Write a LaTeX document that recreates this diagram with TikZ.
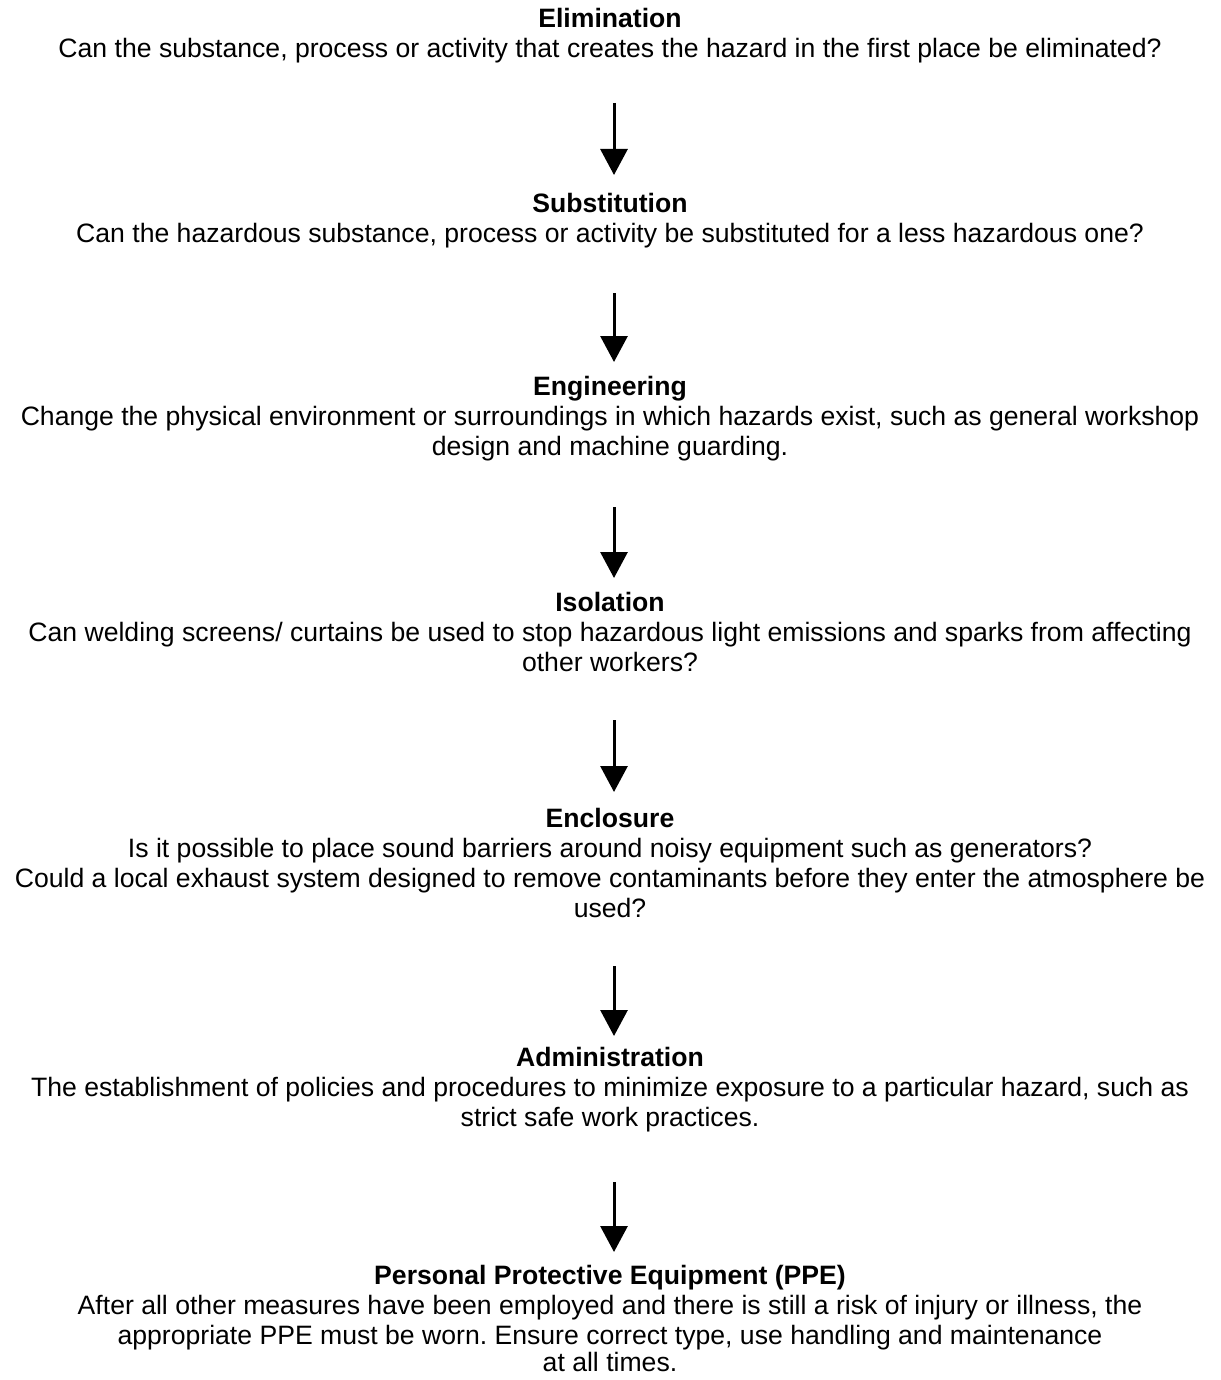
\documentclass[tikz,border=0pt]{standalone}
\usepackage{fontspec}
\setmainfont{Liberation Sans}
\usetikzlibrary{arrows.meta}
\frenchspacing
\tikzset{
  block/.style={anchor=north, inner sep=0pt, outer sep=0pt, align=center,
    font=\fontsize{26.6}{30}\selectfont},
  flow/.style={line width=3pt, -{Triangle[width=27pt,length=26pt]}}
}
\newcommand{\ttl}[1]{\strut\textbf{#1}}
\begin{document}
\begin{tikzpicture}[x=1pt,y=-1pt]
\useasboundingbox[fill=white] (0,0) rectangle (1220,1380);
\node[block] (elim) at (610,6.2) {\ttl{Elimination}\\Can the substance, process or activity that creates the hazard in the first place be eliminated?\strut};
\node[block] (subst) at (610,191.2) {\ttl{Substitution}\\Can the hazardous substance, process or activity be substituted for a less hazardous one?\strut};
\node[block] (eng) at (610,374.2) {\ttl{Engineering}\\Change the physical environment or surroundings in which hazards exist, such as general workshop\\design and machine guarding.\strut};
\node[block] (iso) at (610,590.2) {\ttl{Isolation}\\Can welding screens/ curtains be used to stop hazardous light emissions and sparks from affecting\\other workers?\strut};
\node[block] (encl) at (610,806.2) {\ttl{Enclosure}\\Is it possible to place sound barriers around noisy equipment such as generators?\\Could a local exhaust system designed to remove contaminants before they enter the atmosphere be\\used?\strut};
\node[block] (admin) at (610,1045.2) {\ttl{Administration}\\The establishment of policies and procedures to minimize exposure to a particular hazard, such as\\strict safe work practices.\strut};
\node[block] (ppe) at (610,1263.2) {\ttl{Personal Protective Equipment (PPE)}\\After all other measures have been employed and there is still a risk of injury or illness, the\\appropriate PPE must be worn. Ensure correct type, use handling and maintenance\\[-3pt]at all times.\strut};
\draw[flow] ([xshift=4pt,yshift=-36.8pt]elim.south) -- ([xshift=4pt,yshift=16.2pt]subst.north);
\draw[flow] ([xshift=4pt,yshift=-41.8pt]subst.south) -- ([xshift=4pt,yshift=12.2pt]eng.north);
\draw[flow] ([xshift=4pt,yshift=-42.8pt]eng.south) -- ([xshift=4pt,yshift=12.2pt]iso.north);
\draw[flow] ([xshift=4pt,yshift=-39.8pt]iso.south) -- ([xshift=4pt,yshift=14.2pt]encl.north);
\draw[flow] ([xshift=4pt,yshift=-39.8pt]encl.south) -- ([xshift=4pt,yshift=9.2pt]admin.north);
\draw[flow] ([xshift=4pt,yshift=-46.8pt]admin.south) -- ([xshift=4pt,yshift=11.2pt]ppe.north);
\end{tikzpicture}
\end{document}
